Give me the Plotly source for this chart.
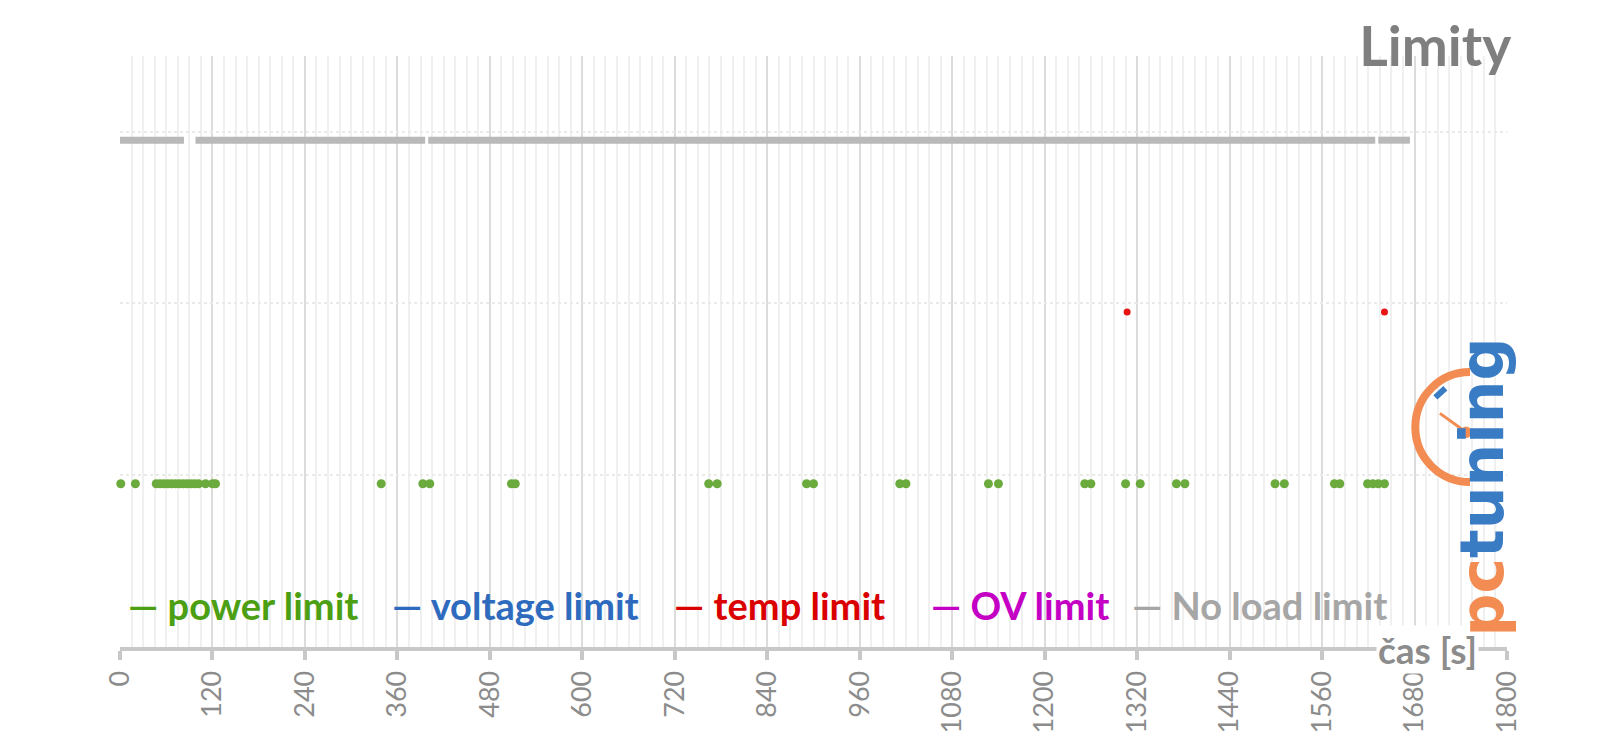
import plotly.graph_objects as go

# ---- data (time in seconds) ----
power_x = [1, 20, 47, 52, 57, 62, 67, 72, 77, 82, 87, 92, 97, 102, 111, 120, 124,
           339, 393, 402, 508, 513, 764, 775, 891, 900, 1012, 1020,
           1127, 1140, 1252, 1260, 1305, 1324, 1371, 1382, 1499, 1511,
           1576, 1583, 1619, 1626, 1633, 1641]
power_level = 1

temp_x = [1307, 1641]
temp_level = 2

noload_x = [0, 83, None, 98, 396, None, 400, 1629, None, 1633, 1674]
noload_level = 3

x_ticks = [0, 120, 240, 360, 480, 600, 720, 840, 960, 1080, 1200, 1320, 1440, 1560, 1680, 1800]

legend_items = ["power limit", "voltage limit", "temp limit", "OV limit", "No load limit"]
legend_colors = ["#4C9F12", "#2E6BBE", "#DA0000", "#C400C4", "#A6A6A6"]
legend_pos = [0.004, 0.195, 0.398, 0.583, 0.728]

FONT = "Lato"

fig = go.Figure()

fig.add_trace(go.Scatter(
    x=noload_x, y=[None if v is None else noload_level for v in noload_x],
    mode="lines", line=dict(color="#B9B9B9", width=7), connectgaps=False,
    name="No load limit", showlegend=False, hoverinfo="x"))

fig.add_trace(go.Scatter(
    x=power_x, y=[power_level] * len(power_x), mode="markers",
    marker=dict(color="#6BAA3C", size=9), cliponaxis=False,
    name="power limit", showlegend=False))

fig.add_trace(go.Scatter(
    x=temp_x, y=[temp_level] * len(temp_x), mode="markers",
    marker=dict(color="#E81414", size=7), cliponaxis=False,
    name="temp limit", showlegend=False))

annotations = []
for name, col, px in zip(legend_items, legend_colors, legend_pos):
    annotations.append(dict(
        xref="paper", yref="paper", x=px, y=0.071, xanchor="left", yanchor="middle",
        text=f"<b>— {name}</b>", showarrow=False,
        font=dict(family=FONT, size=38, color=col)))

annotations.append(dict(
    xref="paper", yref="paper", x=0.943, y=-0.005, xanchor="center", yanchor="middle",
    text="<b>čas [s]</b>", showarrow=False, bgcolor="white", borderpad=1,
    font=dict(family=FONT, size=37, color="#8C8C8C")))

# pctuning logo (text)
annotations.append(dict(
    xref="paper", yref="paper", x=0.982, y=0.27, xanchor="center", yanchor="middle",
    text="<b><span style='color:#F28C52'>pc</span><span style='color:#3A7CC4'>tuning</span></b>",
    textangle=-90, showarrow=False,
    font=dict(family="DejaVu Sans", size=60)))

fig.update_layout(
    width=1600, height=745,
    margin=dict(l=119.5, r=93, t=56, b=98),
    paper_bgcolor="white", plot_bgcolor="white",
    title=dict(text="<b>Limity</b>", x=0.9445, xanchor="right", y=0.937, yanchor="middle",
               font=dict(family=FONT, size=55, color="#7F7F7F")),
    showlegend=False,
    annotations=annotations,
    xaxis=dict(
        range=[0, 1800], tickmode="array", tickvals=x_ticks,
        ticktext=[str(v) for v in x_ticks], tickangle=-90,
        tickfont=dict(family=FONT, size=27, color="#8C8C8C"),
        showline=True, linecolor="#C8C8C8", linewidth=4,
        ticks="outside", ticklen=9, tickwidth=4, tickcolor="#C8C8C8",
        showgrid=True, gridcolor="#DCDCDC", gridwidth=2,
        minor=dict(dtick=15, tick0=0, showgrid=True, gridcolor="#F0F0F0", gridwidth=2, ticks=""),
        zeroline=False, fixedrange=True),
    yaxis=dict(
        range=[0.05, 3.49], tick0=0.05, dtick=1, showticklabels=False,
        showgrid=True, gridcolor="#EAEAEA", gridwidth=2, griddash="dot",
        zeroline=False, showline=False, fixedrange=True),
)

# clock icon of the logo (semicircle arc + hand), in data coords
cx, cy, rx, ry, k = 1752, 1.33, 71, 0.32, 0.5523
arc = (f"M {cx},{cy+ry} C {cx-k*rx},{cy+ry} {cx-rx},{cy+k*ry} {cx-rx},{cy} "
       f"C {cx-rx},{cy-k*ry} {cx-k*rx},{cy-ry} {cx},{cy-ry}")
fig.add_shape(type="path", xref="x", yref="y", path=arc,
              line=dict(color="#F28C52", width=8), layer="above")
fig.add_shape(type="line", xref="x", yref="y", x0=1713, y0=1.41, x1=1747, y1=1.30,
              line=dict(color="#F28C52", width=3), layer="above")
fig.add_shape(type="circle", xref="x", yref="y", x0=1740, y0=1.27, x1=1754, y1=1.33,
              fillcolor="#F28C52", line=dict(color="#F28C52", width=1), layer="above")
fig.add_shape(type="line", xref="x", yref="y", x0=1707, y0=1.503, x1=1720, y1=1.556,
              line=dict(color="#3A7CC4", width=6), layer="above")

fig.write_html("out.html")
